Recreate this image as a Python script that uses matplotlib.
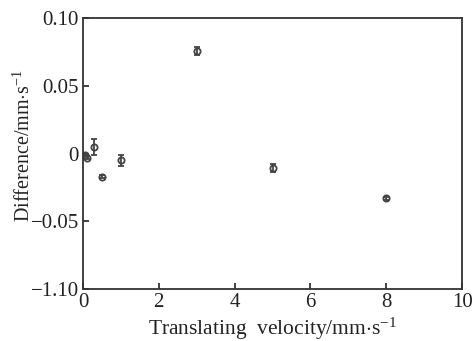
import matplotlib
matplotlib.use('Agg')
import matplotlib.pyplot as plt

# measured data
velocity = [0.05, 0.1, 0.3, 0.5, 1.0, 3.0, 5.0, 8.0]
difference = [-0.001, -0.003, 0.005, -0.017, -0.005, 0.076, -0.011, -0.033]
error = [0.001, 0.001, 0.006, 0.001, 0.004, 0.003, 0.003, 0.001]

yticks = [-0.10, -0.05, 0.0, 0.05, 0.10]
ytick_labels = ['\u22121.10', '\u22120.05', '0', '0.05', '0.10']
xticks = [0, 2, 4, 6, 8, 10]

plt.rcParams['font.family'] = 'Liberation Serif'
plt.rcParams['mathtext.fontset'] = 'custom'
plt.rcParams['mathtext.rm'] = 'Liberation Serif'
plt.rcParams['mathtext.it'] = 'Liberation Serif:italic'

fig = plt.figure(figsize=(4.74, 3.41), dpi=100)
ax = fig.add_axes([0.175, 0.1525, 0.8, 0.7945])

ax.errorbar(velocity, difference, yerr=error, fmt='o', ms=4.5, mfc='none',
            mec='#444444', mew=1.3, ecolor='#444444', elinewidth=1.3,
            capsize=2.5, capthick=1.3)

ax.set_xlim(0, 10)
ax.set_ylim(-0.10, 0.10)
ax.set_xticks(xticks)
ax.set_yticks(yticks)
ax.set_yticklabels(ytick_labels)
ax.tick_params(direction='in', length=4, width=1.2, labelsize=15, colors='#222222', pad=3)

for s in ax.spines.values():
    s.set_linewidth(1.3)
    s.set_color('#333333')

ax.set_xlabel(r'Translating  velocity/mm$\cdot$s$^{-1}$', fontsize=15.5, color='#222222')
ax.xaxis.set_label_coords(0.5, -0.1)
ax.set_ylabel(r'Difference/mm$\cdot$s$^{-1}$', fontsize=14.5, color='#222222')
ax.yaxis.set_label_coords(-0.128, 0.53)

plt.savefig('out.png', dpi=100)
